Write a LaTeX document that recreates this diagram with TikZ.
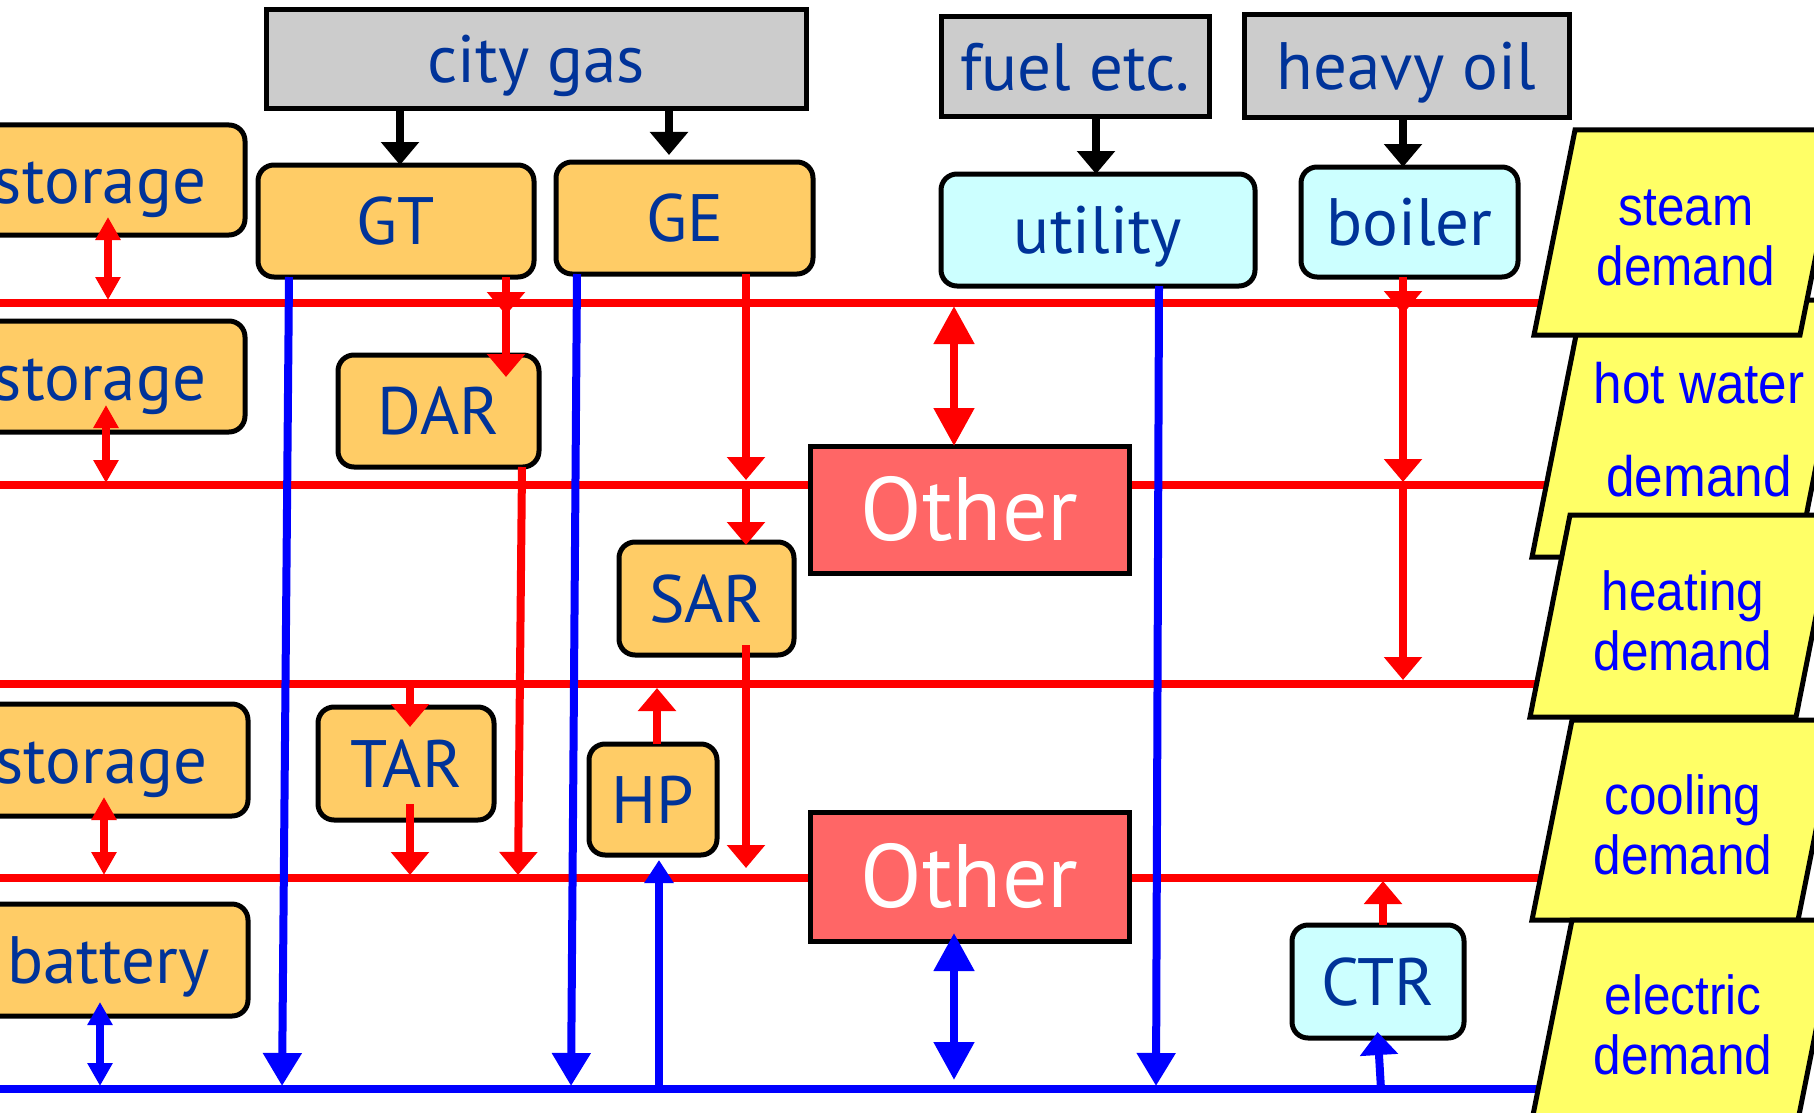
\documentclass[tikz,border=0pt]{standalone}
\usepackage{fontspec}
\newfontfamily\lblfont{PT Sans}
\newfontfamily\dmdfont[FakeStretch=0.9]{Liberation Sans}
\usetikzlibrary{arrows.meta,calc}
\definecolor{dkblue}{RGB}{0,51,153}
\definecolor{orng}{RGB}{255,204,102}
\definecolor{cyn}{RGB}{204,255,255}
\definecolor{gry}{RGB}{204,204,204}
\definecolor{othc}{RGB}{255,102,102}
\definecolor{ylw}{RGB}{255,255,102}
\tikzset{
  bx/.style={draw=black, line width=5pt, inner sep=0pt, outer sep=0pt, text=dkblue,
    text height=47pt, text depth=0pt,
    font={\lblfont\fontsize{67}{70}\selectfont}},
  src/.style={bx, fill=gry},
  ob/.style={bx, fill=orng, rounded corners=16pt},
  cb/.style={bx, fill=cyn, rounded corners=16pt},
  othbox/.style={bx, fill=othc, text=white, text height=62pt, font={\lblfont\fontsize{90}{92}\selectfont}},
  sz/.style 2 args={minimum width=#1pt, minimum height=#2pt},
  dm/.style={draw=black, line width=5pt, fill=ylw, line join=miter},
  dmt/.style={text=blue, font={\dmdfont\fontsize{55}{60}\selectfont}, align=center, inner sep=0pt},
  rl/.style={draw=red, line width=8pt},
  bl/.style={draw=blue, line width=8pt},
  kl/.style={draw=black, line width=7.5pt},
  arA/.style={-{Triangle[width=37pt,length=23pt]}},
  arH/.style={-{Triangle[width=28pt,length=23pt]}},
  arD/.style={-{Triangle[width=37pt,length=33pt]}},
  arS2/.style={{Triangle[width=24pt,length=23pt]}-{Triangle[width=24pt,length=23pt]}},
  arO2/.style={{Triangle[width=39pt,length=38pt]}-{Triangle[width=39pt,length=38pt]}},
}
\begin{document}
\begin{tikzpicture}[x=1pt,y=-1pt]
\useasboundingbox (0,0) rectangle (1814,1113);
% bus lines
\coordinate (L1) at (-10,303);  \coordinate (L1e) at (1548,303);
\coordinate (L2) at (-10,485);  \coordinate (L2e) at (1550,485);
\coordinate (L3) at (-10,684);  \coordinate (L3e) at (1537,684);
\coordinate (L4) at (-10,878);  \coordinate (L4e) at (1545,878);
\coordinate (LB) at (-10,1089); \coordinate (LBe) at (1545,1089);
\draw[rl] (L1) -- (L1e);
\draw[rl] (L2) -- (L2e);
\draw[rl] (L3) -- (L3e);
\draw[rl] (L4) -- (L4e);
\draw[bl] (LB) -- (LBe);
% x positions
\foreach \xx in {100,104,106,108,282,289,400,410,506,518,522,571,577,657,659,669,746,954,1096,1156,1159,1378,1381,1383,1403}
  {\coordinate (c\xx) at (\xx,0);}
% sources
\node[src, sz={540}{99}]  (cg)   at (536,59.5)   {city gas};
\node[src, sz={268}{100}] (fuel) at (1075,67)    {fuel etc.};
\node[src, sz={325}{103}] (oil)  at (1406.5,66.5) {heavy oil};
% equipment
\node[ob, sz={290}{110}] (st1)  at (100,180)     {storage};
\node[ob, sz={276}{112}] (GT)   at (396,221)     {GT};
\node[ob, sz={257}{112}] (GE)   at (684.5,218)   {GE};
\node[cb, sz={314}{112}] (util) at (1098,230)    {utility};
\node[cb, sz={217}{110}] (boil) at (1409.5,222)  {boiler};
\node[ob, sz={290}{111}] (st2)  at (100,376.5)   {storage};
\node[ob, sz={201}{112}] (DAR)  at (438.5,411)   {DAR};
\node[othbox, sz={319}{127}] (O1) at (969.5,509.5) {Other};
\node[ob, sz={175}{113}] (SAR)  at (706.5,598.5) {SAR};
\node[ob, sz={293}{112}] (st3)  at (101.5,760)   {storage};
\node[ob, sz={176}{113}] (TAR)  at (406,763.5)   {TAR};
\node[ob, sz={128}{111}] (HP)   at (653,799.5)   {HP};
\node[othbox, sz={319}{129}] (O2) at (969.5,876.5) {Other};
\node[ob, sz={279}{112}] (bat)  at (108.5,960)   {battery};
\node[cb, sz={172}{113}] (CTR)  at (1378,981.5)  {CTR};
% black fuel arrows
\draw[kl,arA] (cg.south -| c400) -- (GT.north -| c400);
\draw[kl,arA,shorten >=7pt] (cg.south -| c669) -- (GE.north -| c669);
\draw[kl,arA] (fuel.south -| c1096) -- (util.north -| c1096);
\draw[kl,arA] (oil.south -| c1403) -- (boil.north -| c1403);
% storage links
\draw[rl,arS2,shorten <=-18pt,shorten >=3pt] (st1.south -| c108) -- (L1 -| c108);
\draw[rl,arS2,shorten <=-27pt,shorten >=2pt] (st2.south -| c106) -- (L2 -| c106);
\draw[rl,arS2,shorten <=-19pt,shorten >=3pt] (st3.south -| c104) -- (L4 -| c104);
\draw[bl,arS2,shorten <=-14pt,shorten >=3pt] (bat.south -| c100) -- (LB -| c100);
% heat flows
\draw[rl,arA,shorten >=-12pt] (GT.south -| c506) -- (L1 -| c506);
\draw[rl,arA,shorten >=-22pt] (L1 -| c506) -- (DAR.north -| c506);
\draw[rl,arA,shorten >=5pt] (GE.south -| c746) -- (L2 -| c746);
\draw[rl,arA,shorten >=-3pt] (L2 -| c746) -- (SAR.north -| c746);
\draw[rl,arA,shorten >=-11pt] (boil.south -| c1403) -- (L1 -| c1403);
\draw[rl,arA,shorten >=3pt] (L1 -| c1403) -- (L2 -| c1403);
\draw[rl,arA,shorten >=4pt] (L2 -| c1403) -- (L3 -| c1403);
\draw[rl,arA,shorten >=3pt] (DAR.south -| c522) -- (L4 -| c518);
\draw[rl,arA,shorten <=-10pt,shorten >=10pt] (SAR.south -| c746) -- (L4 -| c746);
\draw[rl,arA,shorten >=-20pt] (L3 -| c410) -- (TAR.north -| c410);
\draw[rl,arA,shorten <=-16pt,shorten >=3pt] (TAR.south -| c410) -- (L4 -| c410);
\draw[rl,arA,shorten >=4pt] (HP.north -| c657) -- (L3 -| c657);
\draw[rl,arA,shorten >=3pt] (CTR.north -| c1383) -- (L4 -| c1383);
\draw[rl,arO2,shorten <=3pt] (L1 -| c954) -- (O1.north -| c954);
% electricity flows
\draw[bl,arD,shorten >=3pt] (GT.south -| c289) -- (LB -| c282);
\draw[bl,arD,shorten >=3pt] (GE.south -| c577) -- (LB -| c571);
\draw[bl,arD,shorten >=3pt] (util.south -| c1159) -- (LB -| c1156);
\draw[bl,arH,shorten >=5pt] (LB -| c659) -- (HP.south -| c659);
\draw[bl,arA,shorten >=-6pt] (LB -| c1381) -- (CTR.south -| c1378);
\draw[bl,arO2,shorten <=-8pt,shorten >=9pt] (O2.south -| c954) -- (LB -| c954);
% demand boxes
\draw[dm] (1583,300) -- (1849,300) -- (1798,557) -- (1532,557) -- cycle;
\node[dmt, font={\dmdfont\fontsize{57}{93}\selectfont}] (dhw) at (1699,430) {hot water\\demand};
\draw[dm] (1575,130) -- (1841,130) -- (1800,335) -- (1534,335) -- cycle;
\node[dmt] (dst) at (1686,238) {steam\\demand};
\draw[dm] (1570,515) -- (1836,515) -- (1796,717) -- (1530,717) -- cycle;
\node[dmt] (dht) at (1683,621) {heating\\demand};
\draw[dm] (1572,720) -- (1838,720) -- (1798,920) -- (1532,920) -- cycle;
\node[dmt] (dco) at (1683,825) {cooling\\demand};
\draw[dm] (1572,920) -- (1838,920) -- (1797,1125) -- (1531,1125) -- cycle;
\node[dmt] (del) at (1683,1025) {electric\\demand};
\end{tikzpicture}
\end{document}
